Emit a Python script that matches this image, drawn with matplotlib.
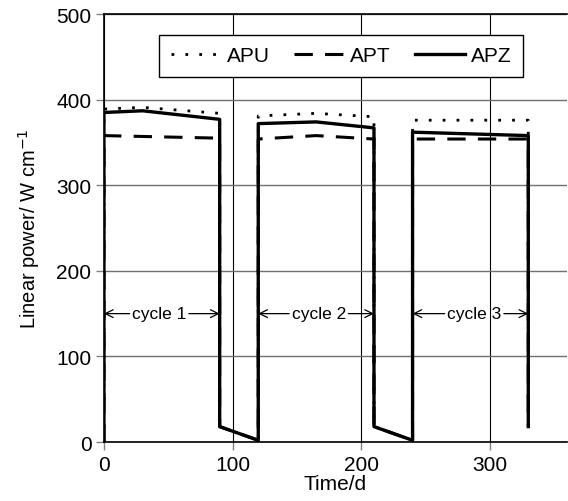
import matplotlib.pyplot as plt

plt.rcParams['font.family'] = ['Liberation Sans', 'DejaVu Sans']

# time [d] and linear power [W/cm] per series
apuT = [0, 0, 30, 90, 90, 120, 120, 165, 210, 210, 240, 240, 330, 330]
apuP = [0, 389, 391, 384, 18, 2, 381, 384, 380, 18, 2, 376, 376, 18]

aptT = [0, 0, 90, 90, 120, 120, 165, 210, 210, 240, 240, 330, 330]
aptP = [0, 358, 355, 18, 2, 354, 358, 354, 18, 2, 354, 354, 18]

apzT = [0, 0, 30, 90, 90, 120, 120, 165, 210, 210, 240, 240, 330, 330]
apzP = [0, 385, 387, 377, 18, 2, 372, 374, 367, 18, 2, 362, 358, 18]

cycles = [('cycle 1', 0, 90, 43), ('cycle 2', 120, 210, 167), ('cycle 3', 240, 330, 288)]
cycleLevel = 150


def main() -> None:
    fig = plt.figure(figsize=(5.68, 5.02), dpi=100)
    ax = fig.add_axes([0.183, 0.1175, 0.815, 0.8525])

    ax.plot(apuT, apuP, color='black', lw=2.0, linestyle=(0, (1, 4)), label='APU')
    ax.plot(aptT, aptP, color='black', lw=2.2, linestyle=(0, (6, 4)), label='APT')
    ax.plot(apzT, apzP, color='black', lw=2.4, linestyle='-', label='APZ')

    for name, start, end, mid in cycles:
        ax.text(mid, cycleLevel, name, ha='center', va='center', fontsize=12.5)
        halfWidth = 23
        ax.annotate('', xy=(start, cycleLevel), xytext=(mid - halfWidth, cycleLevel),
                    arrowprops=dict(arrowstyle='->', color='black', lw=0.9,
                                    shrinkA=0, shrinkB=0, mutation_scale=14))
        ax.annotate('', xy=(end, cycleLevel), xytext=(mid + halfWidth, cycleLevel),
                    arrowprops=dict(arrowstyle='->', color='black', lw=0.9,
                                    shrinkA=0, shrinkB=0, mutation_scale=14))

    ax.set_xlim(0, 360)
    ax.set_ylim(0, 500)
    ax.set_xticks([0, 100, 200, 300])
    ax.set_yticks([0, 100, 200, 300, 400, 500])
    ax.tick_params(direction='out', labelsize=15, length=6, width=1, color='#808080', pad=3)
    ax.xaxis.grid(True, color='black', lw=0.8)
    ax.yaxis.grid(True, color='#707070', lw=1.0)
    ax.set_axisbelow(True)
    for side in ['left', 'bottom', 'top']:
        ax.spines[side].set_linewidth(1.2)
    ax.spines['right'].set_visible(False)

    ax.set_xlabel('Time/d', fontsize=15, labelpad=0)
    ax.set_ylabel('Linear power/ W cm$^{-1}$', fontsize=14.5, labelpad=10)

    leg = ax.legend(loc='upper center', bbox_to_anchor=(0.512, 0.951), ncol=3, fontsize=15,
                    frameon=True, fancybox=False, edgecolor='black', framealpha=1,
                    handlelength=2.4, handletextpad=0.3, columnspacing=1.15,
                    borderpad=0.55, borderaxespad=0)
    leg.get_frame().set_linewidth(1.0)

    fig.savefig('out.png', dpi=100)


if __name__ == '__main__':
    main()
